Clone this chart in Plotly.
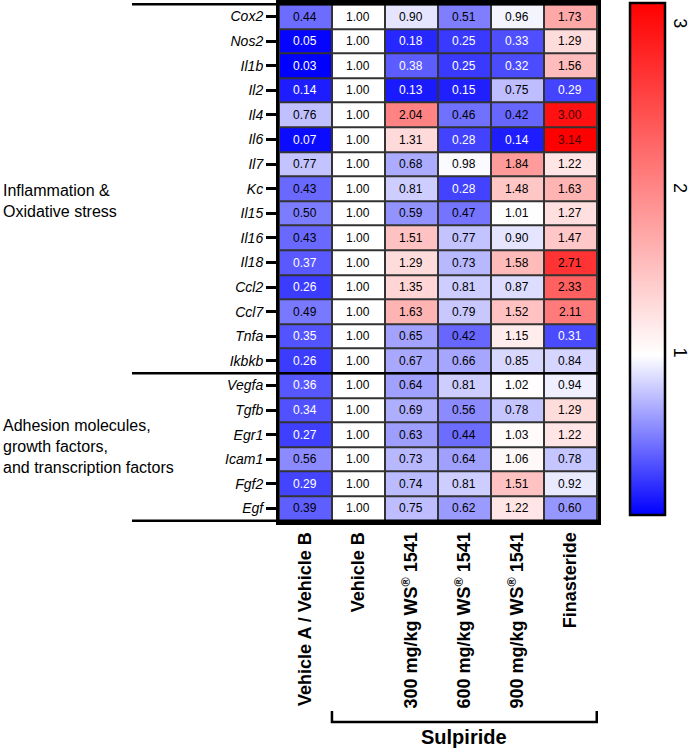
import plotly.graph_objects as go

# Gene rows (top to bottom)
genes = ['Cox2', 'Nos2', 'Il1b', 'Il2', 'Il4', 'Il6', 'Il7', 'Kc', 'Il15', 'Il16',
         'Il18', 'Ccl2', 'Ccl7', 'Tnfa', 'Ikbkb',
         'Vegfa', 'Tgfb', 'Egr1', 'Icam1', 'Fgf2', 'Egf']

groups = ['Vehicle A / Vehicle B', 'Vehicle B',
          '300 mg/kg WS<sup>®</sup> 1541', '600 mg/kg WS<sup>®</sup> 1541',
          '900 mg/kg WS<sup>®</sup> 1541', 'Finasteride']

# Fold change per group (one list per column)
veh_a_b = [0.44, 0.05, 0.03, 0.14, 0.76, 0.07, 0.77, 0.43, 0.50, 0.43,
           0.37, 0.26, 0.49, 0.35, 0.26, 0.36, 0.34, 0.27, 0.56, 0.29, 0.39]
veh_b = [1.00] * 21
ws_300 = [0.90, 0.18, 0.38, 0.13, 2.04, 1.31, 0.68, 0.81, 0.59, 1.51,
          1.29, 1.35, 1.63, 0.65, 0.67, 0.64, 0.69, 0.63, 0.73, 0.74, 0.75]
ws_600 = [0.51, 0.25, 0.25, 0.15, 0.46, 0.28, 0.98, 0.28, 0.47, 0.77,
          0.73, 0.81, 0.79, 0.42, 0.66, 0.81, 0.56, 0.44, 0.64, 0.81, 0.62]
ws_900 = [0.96, 0.33, 0.32, 0.75, 0.42, 0.14, 1.84, 1.48, 1.01, 0.90,
          1.58, 0.87, 1.52, 1.15, 0.85, 1.02, 0.78, 1.03, 1.06, 1.51, 1.22]
finasteride = [1.73, 1.29, 1.56, 0.29, 3.00, 3.14, 1.22, 1.63, 1.27, 1.47,
               2.71, 2.33, 2.11, 0.31, 0.84, 0.94, 1.29, 1.22, 0.78, 0.92, 0.60]

group_labels = ['Inflammation &<br>Oxidative stress',
                'Adhesion molecules,<br>growth factors,<br>and transcription factors']
group_sizes = [15, 6]
cbar_ticks = [1, 2, 3]

columns = [veh_a_b, veh_b, ws_300, ws_600, ws_900, finasteride]
z = [[col[i] for col in columns] for i in range(len(genes))]
zmin = min(min(c) for c in columns)
zmax = max(max(c) for c in columns)
mid = (1 - zmin) / (zmax - zmin)

FONT = 'Arial, Liberation Sans, sans-serif'
W, H = 699, 750
xdom = [279 / W, 598 / W]
ydom = [1 - 522 / H, 1 - 3 / H]
cb_top, cb_bot = 1 - 3 / H, 1 - 515 / H

fig = go.Figure(go.Heatmap(
    z=z, x=groups, y=genes,
    zmin=zmin, zmax=zmax,
    colorscale=[[0, '#0000ff'], [mid, '#ffffff'], [1, '#ff0000']],
    xgap=2, ygap=2,
    hoverongaps=False,
    colorbar=dict(
        x=630 / W, xanchor='left', y=cb_top, yanchor='top', xpad=0, ypad=0,
        len=cb_top - cb_bot, lenmode='fraction', thickness=35,
        outlinewidth=2.5, outlinecolor='black',
        tickvals=cbar_ticks, ticks='', tickangle=90,
        tickfont=dict(family=FONT, size=18, color='black'),
    ),
))

# cell values
for i, g in enumerate(genes):
    for j, grp in enumerate(groups):
        v = z[i][j]
        if v < 0.385:
            c = 'white'
        elif v > 2.9:
            c = '#4d0000'
        else:
            c = 'black'
        fig.add_annotation(x=grp, y=g, text=f'{v:.2f}', showarrow=False,
                           font=dict(family=FONT, size=12, color=c))

# separator lines between gene groups
bounds = [-0.5]
for s in group_sizes:
    bounds.append(bounds[-1] + s)
for b in bounds:
    fig.add_shape(type='line', xref='paper', yref='y', x0=132 / W, x1=xdom[1],
                  y0=b, y1=b, line=dict(color='black', width=2.5))

# group labels on the left
for k, lab in enumerate(group_labels):
    yc = (bounds[k] + bounds[k + 1]) / 2
    if k == 0:
        yc += 0.5
    fig.add_annotation(x=0.002, xref='paper', xanchor='left', y=yc, yref='y',
                       text=lab, showarrow=False, align='left',
                       font=dict(family=FONT, size=16, color='black'))

# colorbar tick marks on both inner edges
for t in cbar_ticks:
    yp = cb_bot + (t - zmin) / (zmax - zmin) * (cb_top - cb_bot)
    for x0, x1 in [(631, 638), (658, 664)]:
        fig.add_shape(type='line', xref='paper', yref='paper',
                      x0=x0 / W, x1=x1 / W, y0=yp, y1=yp,
                      line=dict(color='black', width=2.5))

# Sulpiride bracket
fig.add_shape(type='path', xref='x', yref='paper',
              path=f'M 0.5,{1 - 711 / H} L 0.5,{1 - 722 / H} L 5.5,{1 - 722 / H} L 5.5,{1 - 711 / H}',
              line=dict(color='black', width=2.5))
fig.add_annotation(x=3, xref='x', y=0, yref='paper', yanchor='bottom',
                   text='<b>Sulpiride</b>', showarrow=False,
                   font=dict(family=FONT, size=20, color='black'))

fig.update_xaxes(domain=xdom, tickangle=-90, showline=True, mirror=True,
                 linewidth=3, linecolor='black', ticks='', automargin=False,
                 tickfont=dict(family=FONT, size=18, color='black', weight='bold'),
                 showgrid=False, zeroline=False)
fig.update_yaxes(domain=ydom, autorange='reversed', showline=True, mirror=True,
                 linewidth=3, linecolor='black', ticks='outside', ticklen=10,
                 tickwidth=2.5, tickcolor='black', automargin=False,
                 tickfont=dict(family=FONT, size=14, color='black', style='italic'),
                 showgrid=False, zeroline=False)

fig.update_layout(width=W, height=H, margin=dict(l=0, r=0, t=0, b=0),
                  plot_bgcolor='#333333', paper_bgcolor='white',
                  font=dict(family=FONT, color='black'))

fig.write_html("out.html", config={'displayModeBar': False},
               post_script="document.body.style.margin='0px';")
